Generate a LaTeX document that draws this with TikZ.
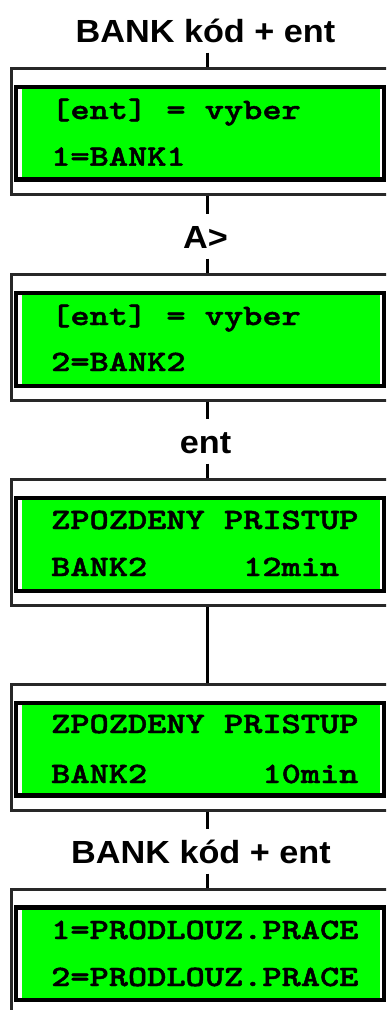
\documentclass[tikz,border=0pt]{standalone}
\usepackage{fontspec}
\setmainfont{Liberation Sans}
\newfontfamily\lcdfont{lmmonolt10-bold.otf}[FakeStretch=1.24, FakeBold=1.6]
\newfontfamily\lblfont{Liberation Sans}[FakeStretch=1.07]
\definecolor{lcdgreen}{RGB}{0,255,0}
\definecolor{frame}{RGB}{40,40,40}
\tikzset{
  outerbox/.style={draw=frame, line width=3pt, rectangle, minimum width=400pt, minimum height=126pt, inner sep=0pt},
  lcdbox/.style={draw=black, line width=4.3pt, fill=white, rectangle, minimum width=368pt, minimum height=92.5pt, inner sep=0pt,
    path picture={\fill[lcdgreen] ([xshift=6pt,yshift=-1pt]path picture bounding box.north west) rectangle ([xshift=-4pt,yshift=1pt]path picture bounding box.south east);}},
  lcdtext/.style={anchor=base west, inner sep=0pt, font=\lcdfont\fontsize{29.5}{30}\selectfont},
  steplabel/.style={anchor=base, inner xsep=0pt, inner ysep=10.5pt, text height=23pt, text depth=0pt, font=\lblfont\bfseries\fontsize{32}{32}\selectfont},
  conn/.style={draw=black, line width=3pt}
}
\begin{document}
\begin{tikzpicture}[x=1pt,y=-1pt]
\path[use as bounding box] (0,0) rectangle (386,1010);
\clip (0,0) rectangle (386,1010);
\coordinate (spine) at (207,0);

% labels
\node[steplabel] (t1) at (205.5,42) {BANK kód + ent};
\node[steplabel] (l2) at (205.5,248) {A>};
\node[steplabel] (l3) at (205.5,453) {ent};
\node[steplabel] (t5) at (201,863) {BANK kód + ent};

% block 1
\node[outerbox] (o1) at (211,131.5) {};
\node[lcdbox] (i1) at (200,133.25) {};
\node[lcdtext] (a1) at (51,119) {[ent] = vyber};
\node[lcdtext] (b1) at (51,165.7) {1=BANK1};

% block 2
\node[outerbox] (o2) at (211,337) {};
\node[lcdbox] (i2) at (200,339.5) {};
\node[lcdtext] (a2) at (51,325) {[ent] = vyber};
\node[lcdtext] (b2) at (51,371) {2=BANK2};

% block 3
\node[outerbox] (o3) at (211,542.5) {};
\node[lcdbox] (i3) at (200,544.5) {};
\node[lcdtext] (a3) at (51,529) {ZPOZDENY PRISTUP};
\node[lcdtext] (b3) at (51,576) {BANK2~~~~~12min};

% block 4
\node[outerbox] (o4) at (211,747.5) {};
\node[lcdbox] (i4) at (200,749.25) {};
\node[lcdtext] (a4) at (51,733) {ZPOZDENY PRISTUP};
\node[lcdtext] (b4) at (51,783) {BANK2~~~~~~10min};

% block 5
\node[outerbox] (o5) at (211,952) {};
\node[lcdbox] (i5) at (200,953.75) {};
\node[lcdtext] (a5) at (51,939) {1=PRODLOUZ.PRACE};
\node[lcdtext] (b5) at (51,986) {2=PRODLOUZ.PRACE};

% connectors
\draw[conn] (spine |- t1.south) -- (spine |- o1.north);
\draw[conn] (spine |- o1.south) -- (spine |- l2.north);
\draw[conn] (spine |- l2.south) -- (spine |- o2.north);
\draw[conn] (spine |- o2.south) -- (spine |- l3.north);
\draw[conn] (spine |- l3.south) -- (spine |- o3.north);
\draw[conn] (spine |- o3.south) -- (spine |- o4.north);
\draw[conn] (spine |- o4.south) -- (spine |- t5.north);
\draw[conn] (spine |- t5.south) -- (spine |- o5.north);
\end{tikzpicture}
\end{document}
